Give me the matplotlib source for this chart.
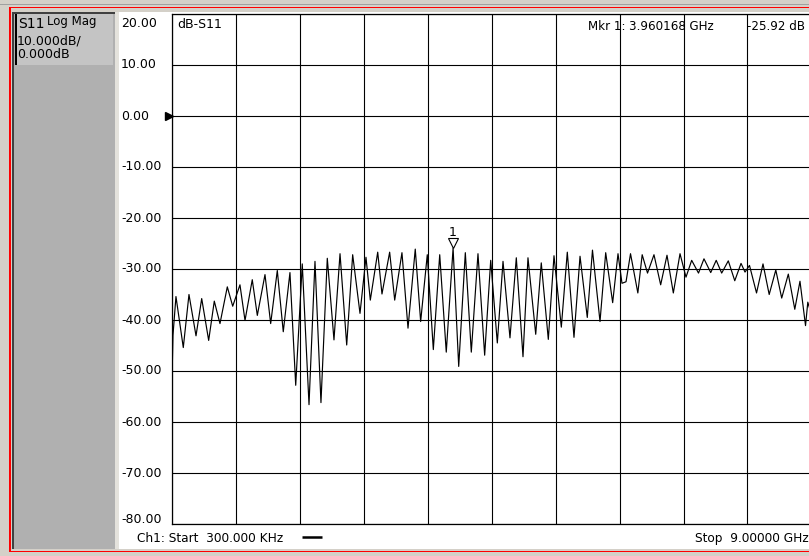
import numpy as np
import matplotlib
matplotlib.use("Agg")
import matplotlib.pyplot as plt
from matplotlib.patches import Rectangle
import matplotlib.transforms as mtransforms

W, H = 809, 556

# trace vertices (GHz, dB)
freq_ghz = [0.0003, 0.021, 0.063, 0.166, 0.246, 0.345, 0.425, 0.523, 0.602, 0.682,
            0.785, 0.861, 0.963, 1.034, 1.136, 1.207, 1.315, 1.395, 1.488, 1.572,
            1.666, 1.747, 1.839, 1.934, 2.018, 2.102, 2.191, 2.285, 2.370, 2.464,
            2.548, 2.651, 2.735, 2.796, 2.900, 2.960, 3.068, 3.139, 3.241, 3.326,
            3.428, 3.504, 3.597, 3.682, 3.772, 3.864, 3.960, 4.039, 4.132, 4.216,
            4.310, 4.404, 4.489, 4.582, 4.662, 4.760, 4.849, 4.943, 5.013, 5.122,
            5.200, 5.299, 5.379, 5.482, 5.566, 5.660, 5.745, 5.847, 5.920, 6.026,
            6.106, 6.204, 6.279, 6.335, 6.392, 6.455, 6.558, 6.619, 6.694, 6.785,
            6.879, 6.968, 7.057, 7.151, 7.235, 7.315, 7.411, 7.488, 7.583, 7.660,
            7.737, 7.830, 7.921, 8.009, 8.065, 8.128, 8.227, 8.318, 8.405, 8.498,
            8.581, 8.674, 8.765, 8.838, 8.916, 8.948, 9.000]
s11_db = [-56.2, -43.0, -35.4, -45.4, -35.0, -43.1, -35.8, -44.0, -36.3, -40.7,
          -33.5, -37.3, -33.1, -40.1, -32.1, -39.1, -31.1, -40.7, -30.3, -42.3,
          -30.7, -52.8, -29.0, -56.6, -28.5, -56.2, -27.9, -43.9, -27.0, -44.9,
          -27.2, -38.7, -27.7, -36.1, -26.7, -34.9, -26.7, -36.1, -26.8, -41.6,
          -26.1, -40.3, -27.2, -45.8, -27.2, -46.3, -25.9, -49.1, -26.8, -46.3,
          -27.0, -46.9, -28.3, -44.5, -28.5, -43.5, -27.8, -47.2, -27.8, -42.8,
          -28.8, -43.8, -27.4, -41.4, -26.7, -43.4, -27.5, -39.5, -26.3, -40.3,
          -26.8, -36.6, -27.0, -32.8, -32.5, -27.0, -34.7, -27.2, -30.8, -27.2,
          -33.1, -27.3, -34.7, -27.0, -31.6, -28.3, -30.8, -28.0, -30.7, -28.3,
          -30.8, -28.4, -32.3, -28.9, -30.6, -29.3, -34.7, -29.0, -35.0, -30.2,
          -35.7, -31.0, -37.9, -32.4, -41.1, -36.5, -39.0]

marker_freq = 3.960168
marker_db = -25.92
start_ghz = 0.0003
stop_ghz = 9.0
y_ticks = [20, 10, 0, -10, -20, -30, -40, -50, -60, -70, -80]
y_labels = ["20.00", "10.00", "0.00", "-10.00", "-20.00", "-30.00",
            "-40.00", "-50.00", "-60.00", "-70.00", "-80.00"]

plt.rcParams['font.family'] = ['DejaVu Sans']

fig = plt.figure(figsize=(W / 100, H / 100), dpi=100, facecolor='#d4d0c8')

# window chrome drawn in pixel coordinates
bg = fig.add_axes([0, 0, 1, 1])
bg.set_xlim(0, W)
bg.set_ylim(H, 0)
bg.axis('off')

bg.add_patch(Rectangle((0, 3.5), W, 1, fc='#a0a0a0', ec='none'))
bg.add_patch(Rectangle((10, 6.5), W, 1.2, fc='#ff0000', ec='none'))
bg.add_patch(Rectangle((9.5, 6.5), 1.2, 545, fc='#ff0000', ec='none'))
bg.add_patch(Rectangle((9.5, 550.5), W, 1.2, fc='#ff0000', ec='none'))

# left panel
bg.add_patch(Rectangle((12, 12), 103, 537, fc='#b0b0b0', ec='none'))
bg.add_patch(Rectangle((12, 11.5), 103, 2, fc='#404040', ec='none'))
bg.add_patch(Rectangle((12, 11.5), 2, 537, fc='#404040', ec='none'))
bg.add_patch(Rectangle((15, 14), 98, 51, fc='#c4c4c4', ec='none'))
bg.add_patch(Rectangle((15, 14), 1.6, 51, fc='#000000', ec='none'))
bg.text(18, 23.5, "S11", fontsize=10, va='center', ha='left')
bg.text(47, 22, "Log Mag", fontsize=8.5, va='center', ha='left')
bg.text(17, 40.5, "10.000dB/", fontsize=9, va='center', ha='left')
bg.text(17, 54.5, "0.000dB", fontsize=9, va='center', ha='left')

# plot area
bg.add_patch(Rectangle((115, 12), 4, 537, fc='#e4e2dc', ec='none'))
bg.add_patch(Rectangle((119, 12), W - 119, 537, fc='white', ec='none'))

bg.text(177, 24, "dB-S11", fontsize=9, va='center', ha='left')
mkr_fs = 8.6
bg.text(588, 27, "Mkr 1:", fontsize=mkr_fs, va='center', ha='left')
bg.text(629, 27, "3.960168 GHz", fontsize=mkr_fs, va='center', ha='left')
bg.text(747, 27, "-25.92 dB", fontsize=mkr_fs, va='center', ha='left')
bg.text(137, 538.5, "Ch1: Start  300.000 KHz", fontsize=8.7, va='center', ha='left')
bg.plot([302, 322], [536.5, 536.5], color='black', lw=1.8, solid_capstyle='butt')
bg.text(809, 538.5, "Stop  9.00000 GHz", fontsize=8.7, va='center', ha='right')

# main trace axes
left, right, top, bottom = 171.5, 811.5, 14, 524
ax = fig.add_axes([left / W, 1 - bottom / H, (right - left) / W, (bottom - top) / H])
ax.set_facecolor('none')
ax.set_xlim(start_ghz, stop_ghz)
ax.set_ylim(-80, 20)
ax.set_xticks(np.linspace(start_ghz, stop_ghz, 11))
ax.set_yticks(y_ticks)
ax.tick_params(length=0, labelleft=False, labelbottom=False)
ax.grid(True, color='black', lw=0.8)
for s in ax.spines.values():
    s.set_color('black')
    s.set_linewidth(0.9)

ax.plot(freq_ghz, s11_db, color='black', lw=0.85)

# y labels, left aligned at the edge of the white area
xt = (121 - left) / (right - left)
ytr = ax.get_yaxis_transform()
for v, lab in zip(y_ticks, y_labels):
    if v == 20:
        ax.text(xt, v - 1.8, lab, transform=ytr, fontsize=9, ha='left', va='center', clip_on=False)
    elif v == -80:
        ax.text(xt, v + 0.8, lab, transform=ytr, fontsize=9, ha='left', va='center', clip_on=False)
    else:
        ax.text(xt, v, lab, transform=ytr, fontsize=9, ha='left', va='center', clip_on=False)

# reference level arrow at 0 dB
ax.plot([0], [0], marker='>', color='black', markersize=6,
        transform=mtransforms.offset_copy(ytr, fig=fig, x=-2.5, y=0, units='dots'),
        clip_on=False)

# marker 1
mk_tr = mtransforms.offset_copy(ax.transData, fig=fig, x=0, y=5, units='dots')
ax.plot([marker_freq], [marker_db], marker='v', mfc='white', mec='black', mew=0.8,
        markersize=7, transform=mk_tr, clip_on=False)
ax.text(marker_freq, marker_db, "1", fontsize=9, ha='center', va='bottom',
        transform=mtransforms.offset_copy(ax.transData, fig=fig, x=0, y=9, units='dots'))

fig.savefig('out.png', dpi=100, facecolor=fig.get_facecolor())
